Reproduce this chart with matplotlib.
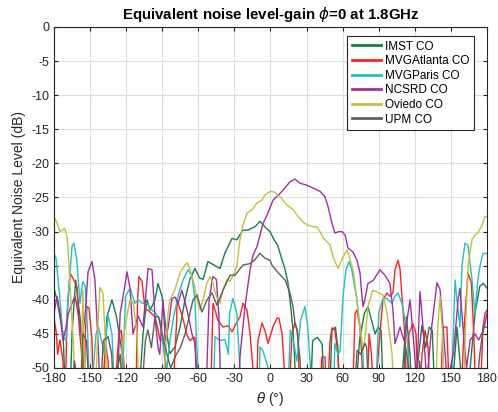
import numpy as np
import matplotlib
matplotlib.use("Agg")
import matplotlib.pyplot as plt

plt.rcParams['font.family'] = ['Liberation Sans', 'DejaVu Sans']
plt.rcParams['axes.unicode_minus'] = False

# values (dB); -56 means the trace drops below the axis
imst_theta = [-180, -177.5, -172.5, -170, -167, -165, -162, -158.4, -156, -153, -140, -136, -131.8, -128, -124, -121,
              -110, -106, -102.7, -100, -96, -93.5, -90.2, -87, -83.6, -79.4, -75.2, -71.1, -67, -62.8, -59, -56,
              -52, -47, -42, -38, -32, -28, -23, -19, -13, -8.7, -4.6, -0.4, 3, 6, 9, 12.1, 14.5, 16.5, 18.5, 20,
              21.5, 33, 35, 39, 43, 45, 49, 51, 54, 56, 58, 70, 74, 78, 81, 84, 87, 89.5, 92, 94, 108, 110, 113,
              116, 118, 122, 126, 129, 132, 134.5, 137, 150, 155, 158, 161, 166, 170, 174, 177, 180]
imst_db = [-38.3, -40, -45, -56, -56, -45, -37.1, -42.5, -47, -56, -56, -42.5, -40, -42.5, -47, -56,
           -56, -45, -40, -41.5, -40, -37.6, -39.5, -44, -47.9, -46.9, -44, -40, -37, -35.4, -36.8, -37,
           -34.4, -34.9, -35.4, -33.2, -31, -31.2, -29.8, -29.8, -29.3, -28.5, -29.3, -30, -31.2, -32, -33.8, -35.5, -37.5, -40.5, -44, -48.4,
           -56, -56, -46, -45.5, -46.5, -56, -56, -44.5, -44, -47, -56, -56, -46, -42, -41, -43, -45, -44, -44.5, -56, -56, -50, -42.5,
           -48, -56, -50, -43.7, -47, -44, -44.5, -56, -56, -44, -50, -56, -50, -42, -38, -37.6, -38.3]

atl_theta = [-180, -178, -177, -175, -172.5, -171, -169, -166.7, -165, -161, -159, -156, -155, -154, -152.6, -150.9,
             -148.4, -147, -139, -137.6, -135, -133, -128, -126, -124, -122, -120, -112, -110.5, -109.3, -106.8,
             -104.3, -101.8, -99, -96, -94, -91.9, -89.4, -87, -84, -80, -78, -77.7, -75.2, -72.7, -69.4, -66.9,
             -64.4, -62.8, -60, -50, -47.8, -43.7, -39.5, -35.3, -32, -29.5, -25.4, -22.9, -19.5, -17, -14.6, -13,
             -12, -10.4, -7.1, -4.6, -2, 2, 5.4, 7.1, 9.6, 11.5, 13, 15, 17.9, 20.4, 22.9, 24.5, 40, 42.8, 45.3,
             47, 49.5, 51.1, 53.6, 56.1, 58, 68, 70.3, 71.9, 74.4, 76.1, 77, 80, 82, 84, 86, 91, 93.5, 96.9, 99.3,
             101.8, 103.5, 106, 107.7, 110.2, 112, 113.5, 115, 118.5, 121, 123, 126, 128.5, 131, 133, 141, 143.4,
             146.7, 149, 158, 161, 164.2, 167, 169, 171, 174, 176.7, 178.3, 180]
atl_db = [-42.5, -45, -48, -45.9, -49, -56, -42, -36.1, -36.6, -38, -44, -50, -56, -45, -41, -41.2,
          -46, -56, -56, -46, -49, -56, -50, -45, -44.5, -49, -56, -56, -40, -36.6, -37.3,
          -41.5, -41.5, -42, -42.5, -44, -45.9, -45.9, -50, -56, -50, -43, -40, -41.4, -42.8, -45.2, -46,
          -45.6, -45.5, -56, -56, -40.5, -43, -44, -43.8, -44.7, -43.8, -42.5, -40.5, -41.5, -45, -50, -56,
          -56, -46, -43.4, -44.5, -46.4, -44, -42.7, -42.7, -45, -50, -56, -56, -45, -43.4, -45, -56, -56, -48.4, -48.4,
          -56, -46, -44.1, -44.5, -48, -56, -56, -42, -41.5, -44, -49, -56, -56, -45, -48, -56, -45, -40, -39, -39.5,
          -39, -35.6, -34.2, -35.5, -41.5, -46, -56, -45, -43.5, -45, -56, -48, -44.5, -47, -56, -56, -44,
          -44, -56, -56, -44, -36.1, -37.5, -45, -56, -56, -44, -42, -41.5]

par_theta = [-180, -178.3, -175, -172.5, -170, -168.4, -165, -163.4, -161, -158.4, -156, -154, -152, -150, -145,
             -143, -138, -135.1, -131.8, -129, -124, -120.5, -116.8, -112.7, -110, -106.8, -102.7, -98.5, -94.4,
             -91.9, -89, -86, -83.6, -81, -77, -72.7, -68.6, -65.3, -62.8, -61, -59, -48, -46.1, -42, -37.8, -35,
             -34, -31.2, -28, -25.4, -24, -10, -8.7, -6.2, -2, 0, 14, 16.5, 19, 22, 25, 28.7, 31, 34, 36, 52,
             53.6, 56, 57.8, 60.3, 62.8, 65.3, 67.5, 71.9, 74.4, 76.9, 79, 87, 90, 93.5, 96.9, 101, 103.5, 106,
             109.3, 111.8, 114.3, 116, 150, 152, 153.4, 155, 157.5, 159.2, 161.7, 164.2, 167.5, 170, 172.5, 174.2,
             176.7, 180]
par_db = [-33.2, -33.9, -40, -45.4, -46, -40, -32.2, -31.7, -34.2, -40.5, -37.3, -38, -45, -56, -45,
          -44, -48, -42.2, -45, -56, -56, -39.5, -38.3, -40.5, -40, -40.5, -40.5, -41.5, -42.2,
          -43, -47, -50, -46, -43, -39.5, -37.1, -35.6, -36.5, -40, -48, -56, -56, -45.4, -46, -45.8, -48,
          -42, -39.8, -42, -50, -56, -56, -46.9, -47.5, -50, -56, -56, -44.4, -46, -49, -43, -41, -44, -52, -56, -56,
          -46.4, -48, -47.6, -39.5, -35.6, -34.4, -35.5, -40, -44, -48, -56, -56, -42, -39.8, -39.8, -40.5, -39.5, -39,
          -40.5, -43, -47, -56, -56, -45, -37.1, -40, -44, -35, -31.7, -32, -37, -42, -37, -35,
          -33.2, -33.2]

ncs_theta = [-180, -177.5, -175, -172.5, -170, -168, -165, -162.5, -159, -156.7, -154, -151.7, -148.4, -146,
             -143.4, -141, -128, -125, -123, -119.3, -116.8, -114.3, -110, -106, -104, -101.8, -98.5, -96, -93.5,
             -92, -89.4, -87.5, -85, -81.9, -79.4, -76.9, -73.6, -69.4, -65.3, -62.8, -60.3, -54, -51, -48, -45,
             -43, -41, -27, -25.4, -21.2, -17, -14.6, -11.2, -6.2, -2.9, 2.1, 7.9, 12, 16.2, 20.4, 24.5, 30.3,
             35.3, 41.2, 45.3, 47.8, 51.1, 53.6, 57, 59.4, 62, 64.4, 68.6, 71.9, 74.4, 76, 77, 79, 81, 85.2, 91,
             95.2, 99.3, 101.8, 103.5, 107.7, 111, 116, 118.5, 121.5, 124.3, 126.8, 130, 134, 138.4, 141, 143.4,
             147, 152, 156, 157.5, 160, 163, 166, 170, 173, 177, 180]
ncs_db = [-42, -39.5, -42, -46, -44, -42, -40.5, -39.5, -43, -46, -42, -35.9, -34.4, -37,
          -46, -56, -56, -42, -40, -35.9, -38.3, -45, -42.4, -44, -40, -35.4, -35.6, -42.5, -47,
          -48, -40, -46, -44, -39.8, -39.6, -40.5, -38.6, -41.5, -45, -46.4, -56, -56, -40, -36.6, -37,
          -42, -56, -56, -48.4, -41, -35.6, -33.5, -32.2, -28.8, -27.6, -25.4, -24.4, -23.6, -22.7, -22.3, -22.9, -23.2,
          -23.6, -24.1, -24.9, -26.3, -28.8, -30.2, -30, -30, -30.5, -32.4, -33, -34.2, -36, -39.5, -41, -39.5, -37.6, -37.2, -35.6,
          -36.4, -37.6, -41.5, -46.4, -44, -46, -40, -45, -52, -38.8, -44, -52, -44, -37.5, -38.5, -44,
          -52, -48, -40, -38.3, -44, -50, -45.9, -45, -45.9, -44.5, -42]

ovi_theta = [-180, -178, -175, -173, -171, -169, -167.5, -166, -164, -162, -158, -156, -154, -146, -143, -141.8,
             -139.3, -137.6, -135, -125, -123.5, -120, -116.8, -114, -111, -109, -90, -88, -85.2, -83.6, -79.4,
             -75.2, -71.1, -69, -66.9, -63, -61, -58.6, -56.1, -52.8, -50.3, -48, -45, -42, -39.5, -36, -33.7, -30,
             -27.9, -25.4, -22.9, -19.5, -15.4, -11.2, -7.1, -4.6, -1, 1.2, 4, 7.9, 13.7, 19, 22, 27, 30.3, 35.3,
             38.7, 41.2, 44, 47, 49.5, 52, 56.1, 58.5, 60.3, 63.6, 66, 68.6, 70.5, 72.7, 75, 77, 79, 81, 85, 88,
             93.5, 96.9, 99, 101, 103, 137, 139, 141, 143, 145, 160, 162, 164.2, 167.5, 170, 172.5, 176, 178.3, 180]
ovi_db = [-27.8, -28.5, -30, -29.8, -29.5, -31, -35, -40, -46, -56, -56, -38.6, -56, -56, -42, -38.2,
          -39, -45, -56, -56, -47.4, -43, -40, -40.5, -45, -56, -56, -50, -42, -40, -38.5,
          -36, -34.9, -34.6, -35.6, -38, -40, -41.5, -40, -37.5, -36.6, -37.5, -39.5, -40.5, -38.5, -37, -37.3, -36,
          -35, -31.2, -29, -27.3, -26.8, -25.8, -25.4, -24.6, -24.2, -24.1, -24.3, -24.9, -26.1, -26.8, -27.6, -28.6, -29, -29.3,
          -29.3, -30, -31, -31.5, -32, -33.7, -35.4, -34.5, -33.7, -32.7, -34, -35.6, -38, -41.5, -44.5, -47.4, -45, -41, -38.6, -38.8,
          -39.3, -42, -45, -47.8, -56, -56, -44, -39.5, -45, -56, -56, -45, -35.1, -31.2, -30.5, -30.2, -29, -27.8, -27.8]

upm_theta = [-180, -166, -163, -160, -158, -156, -153, -150, -142, -139, -135, -132, -130, -127, -125, -122,
             -108, -104, -102, -99, -96, -93, -90, -86, -83, -79.4, -75, -71, -67, -64.4, -61.1, -57, -52.8,
             -48.6, -44.5, -39.5, -33.7, -29.5, -22.9, -17, -12.9, -8.7, -4.6, -0.4, 1.2, 6.2, 12.1, 16.2, 18.7,
             20.4, 22, 23, 24.5, 26, 69, 72, 75, 78.6, 80, 82, 110, 112, 115, 118, 122, 124, 127, 170, 174,
             177, 180]
upm_db = [-56, -56, -49, -52, -56, -45, -46, -56, -56, -46, -45.4, -48, -56, -50, -48, -56,
          -56, -46, -44.4, -47, -42.5, -42.5, -45, -48, -50, -48.4, -47, -45, -42, -40, -39.3, -41.8, -40,
          -39, -40.8, -38.6, -36.4, -36.4, -34.9, -34.7, -34.1, -33.2, -33.9, -34.2, -34.9, -36, -37.1, -39, -41,
          -43.4, -44.4, -46.4, -48.4, -56, -56, -47.4, -48, -46.4, -47, -56, -56, -46.6, -50, -56, -56, -49, -56, -56, -48,
          -44, -44]

names = ['IMST CO', 'MVGAtlanta CO', 'MVGParis CO', 'NCSRD CO', 'Oviedo CO', 'UPM CO']
colors = ['#13804a', '#ff2020', '#1cc3c3', '#a0309e', '#c2c23a', '#5f5f5f']
series = [(imst_theta, imst_db), (atl_theta, atl_db), (par_theta, par_db),
          (ncs_theta, ncs_db), (ovi_theta, ovi_db), (upm_theta, upm_db)]

fig = plt.figure(figsize=(4.98, 4.12), dpi=100)
ax = fig.add_axes([0.1084, 0.1068, 0.8695, 0.8277])

for (th, db), name, c in zip(series, names, colors):
    ax.plot(th, db, color=c, lw=1.0, label=name)

ax.set_xlim(-180, 180)
ax.set_ylim(-50, 0)
ax.set_xticks(np.arange(-180, 181, 30))
ax.set_yticks(np.arange(-50, 1, 5))
ax.grid(True, color='#dedede', lw=0.8)
ax.set_axisbelow(True)
ax.tick_params(direction='in', length=3, labelsize=9, colors='#262626', top=True, right=True)
for s in ax.spines.values():
    s.set_color('#262626')
    s.set_linewidth(0.8)

ax.set_title(r'Equivalent noise level-gain $\phi$=0 at 1.8GHz', fontsize=10.8, fontweight='bold', pad=6)
ax.set_xlabel(r'$\theta$ (°)', fontsize=10, color='#262626')
ax.set_ylabel('Equivalent Noise Level (dB)', fontsize=10, color='#262626')

leg = ax.legend(loc='upper right', bbox_to_anchor=(0.970, 0.974), borderaxespad=0, fontsize=8.5,
                fancybox=False, framealpha=1, edgecolor='#262626', handlelength=2.5,
                handletextpad=0.3, labelspacing=0.22, borderpad=0.4)
leg.get_frame().set_linewidth(0.8)
for line in leg.get_lines():
    line.set_linewidth(2.0)

fig.savefig('out.png', dpi=100)
